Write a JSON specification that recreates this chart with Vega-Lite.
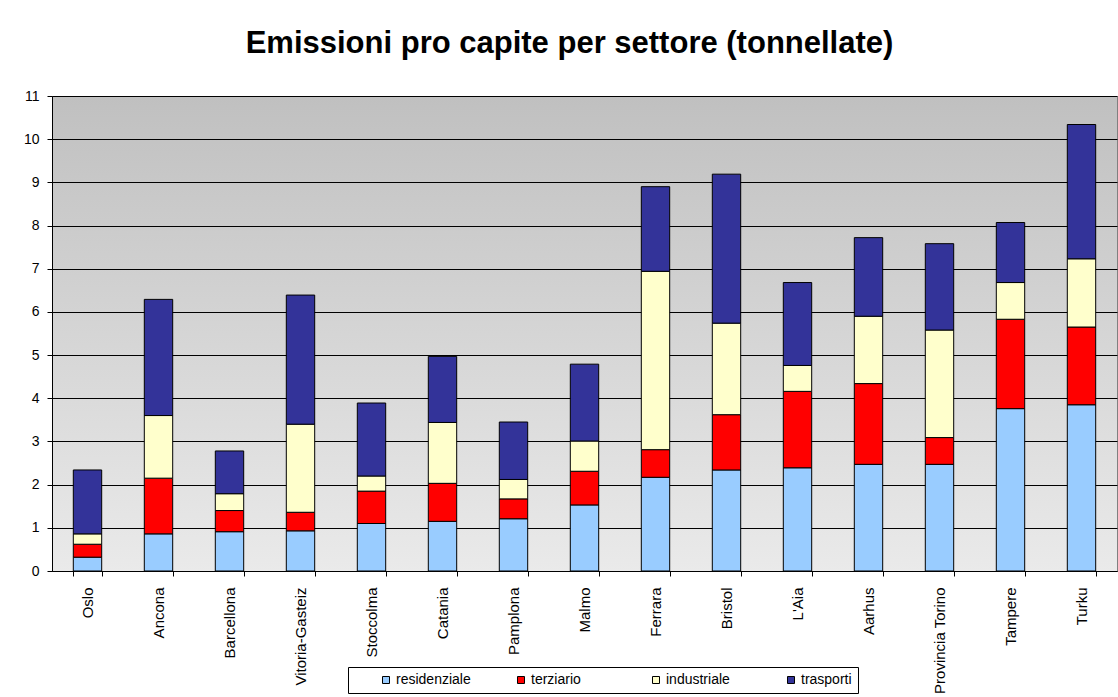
{
  "$schema": "https://vega.github.io/schema/vega-lite/v6.json",
  "autosize": {"type": "none"},
  "width": 1065,
  "height": 475,
  "padding": {"left": 52, "top": 96, "right": 1, "bottom": 126},
  "background": "white",
  "title": {
    "text": "Emissioni pro capite per settore (tonnellate)",
    "font": "Liberation Sans",
    "fontSize": 31,
    "fontWeight": "bold",
    "color": "black",
    "anchor": "middle",
    "baseline": "alphabetic",
    "offset": 5,
    "dx": -15
  },
  "data": {
    "values": [
      {"citta": "Oslo", "residenziale": 0.32, "terziario": 0.30, "industriale": 0.24, "trasporti": 1.48},
      {"citta": "Ancona", "residenziale": 0.86, "terziario": 1.29, "industriale": 1.45, "trasporti": 2.69},
      {"citta": "Barcellona", "residenziale": 0.91, "terziario": 0.49, "industriale": 0.39, "trasporti": 0.99},
      {"citta": "Vitoria-Gasteiz", "residenziale": 0.93, "terziario": 0.43, "industriale": 2.04, "trasporti": 2.99},
      {"citta": "Stoccolma", "residenziale": 1.10, "terziario": 0.75, "industriale": 0.35, "trasporti": 1.69},
      {"citta": "Catania", "residenziale": 1.15, "terziario": 0.88, "industriale": 1.41, "trasporti": 1.53},
      {"citta": "Pamplona", "residenziale": 1.21, "terziario": 0.46, "industriale": 0.45, "trasporti": 1.33},
      {"citta": "Malmo", "residenziale": 1.53, "terziario": 0.78, "industriale": 0.70, "trasporti": 1.78},
      {"citta": "Ferrara", "residenziale": 2.17, "terziario": 0.64, "industriale": 4.13, "trasporti": 1.96},
      {"citta": "Bristol", "residenziale": 2.34, "terziario": 1.28, "industriale": 2.12, "trasporti": 3.45},
      {"citta": "L'Aia", "residenziale": 2.39, "terziario": 1.77, "industriale": 0.60, "trasporti": 1.92},
      {"citta": "Aarhus", "residenziale": 2.47, "terziario": 1.87, "industriale": 1.56, "trasporti": 1.82},
      {"citta": "Provincia Torino", "residenziale": 2.47, "terziario": 0.62, "industriale": 2.49, "trasporti": 2.00},
      {"citta": "Tampere", "residenziale": 3.76, "terziario": 2.07, "industriale": 0.85, "trasporti": 1.39},
      {"citta": "Turku", "residenziale": 3.85, "terziario": 1.80, "industriale": 1.58, "trasporti": 3.11}
    ]
  },
  "transform": [
    {"fold": ["residenziale", "terziario", "industriale", "trasporti"], "as": ["settore", "valore"]}
  ],
  "mark": {"type": "bar", "stroke": "black", "strokeWidth": 1},
  "encoding": {
    "x": {
      "field": "citta",
      "type": "nominal",
      "sort": null,
      "scale": {"paddingInner": 0.6, "paddingOuter": 0.3},
      "axis": {
        "title": null,
        "labelAngle": 270,
        "labelAlign": "right",
        "labelBaseline": "middle",
        "labelFont": "Liberation Sans",
        "labelFontSize": 15,
        "labelColor": "black",
        "labelPadding": 11,
        "tickBand": "extent",
        "tickSize": 5,
        "tickColor": "black",
        "domainColor": "black",
        "grid": false
      }
    },
    "y": {
      "field": "valore",
      "type": "quantitative",
      "stack": "zero",
      "scale": {"domain": [0, 11], "nice": false},
      "axis": {
        "title": null,
        "values": [0, 1, 2, 3, 4, 5, 6, 7, 8, 9, 10, 11],
        "labelFont": "Liberation Sans",
        "labelFontSize": 14,
        "labelColor": "black",
        "labelPadding": 8,
        "tickSize": 5,
        "tickColor": "black",
        "domainColor": "black",
        "grid": true,
        "gridColor": "black",
        "gridOpacity": 1
      }
    },
    "color": {
      "field": "settore",
      "type": "nominal",
      "sort": ["residenziale", "terziario", "industriale", "trasporti"],
      "scale": {
        "domain": ["residenziale", "terziario", "industriale", "trasporti"],
        "range": ["#99CCFF", "#FF0000", "#FFFFCC", "#333399"]
      },
      "legend": {
        "title": null,
        "orient": "none",
        "legendX": 296,
        "legendY": 571,
        "direction": "horizontal",
        "columns": 4,
        "gridAlign": "all",
        "columnPadding": 18,
        "padding": 6,
        "strokeColor": "black",
        "symbolType": "square",
        "symbolSize": 49,
        "symbolStrokeColor": "black",
        "symbolStrokeWidth": 1,
        "symbolOffset": 25,
        "labelOffset": 3,
        "labelFont": "Liberation Sans",
        "labelFontSize": 14,
        "labelColor": "black"
      }
    },
    "order": {"field": "settore_order", "type": "quantitative"}
  },
  "config": {
    "view": {
      "stroke": "#808080",
      "fill": {
        "gradient": "linear",
        "x1": 0, "y1": 0, "x2": 0, "y2": 1,
        "stops": [
          {"offset": 0, "color": "#c0c0c0"},
          {"offset": 1, "color": "#eaeaea"}
        ]
      }
    }
  }
}
